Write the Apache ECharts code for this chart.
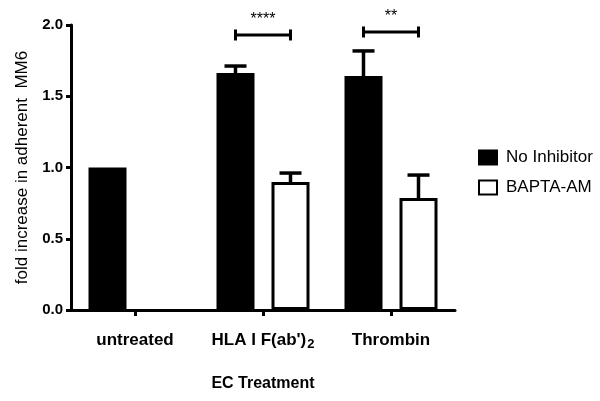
<!DOCTYPE html>
<html>
<head>
<meta charset="utf-8">
<script src="https://cdn.jsdelivr.net/npm/echarts@6/dist/echarts.min.js"></script>
<style>html,body{margin:0;padding:0;background:#fff}#c{width:600px;height:401px}</style>
</head>
<body>
<div id="c"></div>
<script>
// ---- data ----
const categories = ['untreated', "HLA I F(ab')2", 'Thrombin'];
const seriesNames = ['No Inhibitor', 'BAPTA-AM'];
const noInhibitor = [1.0, 1.663, 1.642];
const noInhibitorErr = [null, 0.049, 0.176];
const bapta = ['-', 0.898, 0.786];
const baptaErr = [null, 0.063, 0.161];
const yTicks = [0, 0.5, 1.0, 1.5, 2.0];
const sigCategory = [1, 2];
const sigLevel = [1.93, 1.951];
const sigLabels = ['****', '**'];
const yName = 'fold increase in adherent  MM6';
const xName = 'EC Treatment';

// ---- styling constants ----
const FONT = 'Liberation Sans, Arial, sans-serif';
const BAR_W = 38, BAR_GAP = 17;
const OFF = (BAR_W + BAR_GAP) / 2;

const errData = [];
noInhibitor.forEach((v, i) => { if (noInhibitorErr[i] != null) errData.push([i, v, v + noInhibitorErr[i], -1]); });
bapta.forEach((v, i) => { if (baptaErr[i] != null && v !== '-') errData.push([i, v, v + baptaErr[i], 1]); });
const sigData = sigCategory.map((c, i) => [c, sigLevel[i], sigLabels[i]]);

const chart = echarts.init(document.getElementById('c'));
chart.setOption({
  animation: false,
  backgroundColor: '#fff',
  grid: { left: 71, right: 145, top: 25, bottom: 91, containLabel: false },
  legend: {
    data: seriesNames,
    orient: 'vertical', left: 473, top: 144,
    icon: 'rect', itemWidth: 18, itemHeight: 14, itemGap: 13,
    textStyle: { fontFamily: FONT, fontSize: 17, color: '#000', padding: [0, 0, 0, 4] }
  },
  xAxis: {
    type: 'category', data: categories,
    axisLine: { lineStyle: { color: '#000', width: 3 } },
    axisTick: { show: true, interval: 0, alignWithLabel: true, length: 6, lineStyle: { color: '#000', width: 3 } },
    axisLabel: {
      interval: 0, margin: 20, color: '#000', hideOverlap: false,
      formatter: function (v) {
        if (v.endsWith(')2')) return '{a|' + v.slice(0, -1) + '}{s|2}';
        return '{a|' + v + '}';
      },
      rich: {
        a: { fontFamily: FONT, fontSize: 17, fontWeight: 'bold', color: '#000', lineHeight: 20 },
        s: { fontFamily: FONT, fontSize: 13, fontWeight: 'bold', color: '#000', padding: [9, 0, 0, 1], lineHeight: 13 }
      }
    },
    name: xName, nameLocation: 'middle', nameGap: 66,
    nameTextStyle: { fontFamily: FONT, fontSize: 16, fontWeight: 'bold', color: '#000' }
  },
  yAxis: {
    type: 'value', min: yTicks[0], max: yTicks[yTicks.length - 1], interval: 0.5,
    splitLine: { show: false },
    axisLine: { show: true, lineStyle: { color: '#000', width: 3 } },
    axisTick: { show: true, length: 5, lineStyle: { color: '#000', width: 3 } },
    axisLabel: { margin: 8, color: '#000', fontFamily: FONT, fontSize: 15, fontWeight: 'bold',
      formatter: v => v.toFixed(1) },
    name: yName, nameLocation: 'middle', nameGap: 30,
    nameTextStyle: { fontFamily: FONT, fontSize: 17, color: '#000' }
  },
  series: [
    { name: seriesNames[0], type: 'bar', data: noInhibitor, barWidth: BAR_W, barGap: (BAR_GAP / BAR_W * 100) + '%',
      itemStyle: { color: '#000', borderColor: '#000', borderWidth: 3 } },
    { name: seriesNames[1], type: 'bar', data: bapta, barWidth: BAR_W,
      itemStyle: { color: '#fff', borderColor: '#000', borderWidth: 3 } },
    { type: 'custom', data: errData, z: 5, silent: true,
      renderItem: function (params, api) {
        const base = api.coord([api.value(0), api.value(1)]);
        const top = api.coord([api.value(0), api.value(2)]);
        const x = base[0] + api.value(3) * OFF;
        const st = { stroke: '#000', lineWidth: 3.5 };
        return { type: 'group', children: [
          { type: 'line', shape: { x1: x, y1: base[1], x2: x, y2: top[1] }, style: st },
          { type: 'line', shape: { x1: x - 11, y1: top[1], x2: x + 11, y2: top[1] }, style: st }
        ] };
      } },
    { type: 'custom', data: sigData, z: 5, silent: true,
      renderItem: function (params, api) {
        const p = api.coord([api.value(0), api.value(1)]);
        const x1 = p[0] - OFF, x2 = p[0] + OFF, y = p[1];
        const st = { stroke: '#000', lineWidth: 3 };
        return { type: 'group', children: [
          { type: 'line', shape: { x1: x1, y1: y, x2: x2, y2: y }, style: st },
          { type: 'line', shape: { x1: x1, y1: y - 5.5, x2: x1, y2: y + 5.5 }, style: st },
          { type: 'line', shape: { x1: x2, y1: y - 5.5, x2: x2, y2: y + 5.5 }, style: st },
          { type: 'text', style: { text: sigLabels[params.dataIndex], x: p[0], y: y - 15,
            align: 'center', verticalAlign: 'middle', fontFamily: FONT, fontSize: 16, fill: '#000' } }
        ] };
      } }
  ]
});
</script>
</body>
</html>
